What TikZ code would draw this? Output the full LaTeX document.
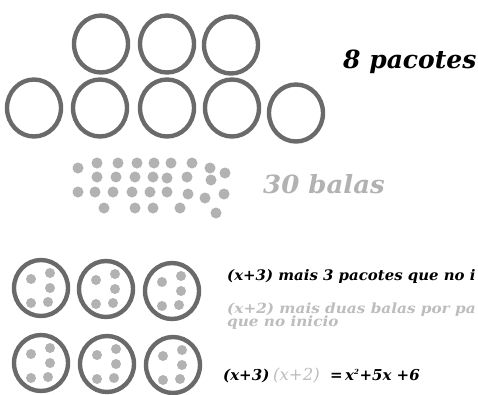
\documentclass[tikz,border=0pt]{standalone}
\usepackage{fontspec}
\setmainfont{DejaVu Serif}
\definecolor{ring}{HTML}{6A6A6A}
\definecolor{candy}{HTML}{B2B2B2}
\definecolor{softtext}{HTML}{BDBDBD}
\begin{document}
\begin{tikzpicture}[x=1pt,y=-1pt,
  pack/.style={draw=ring,line width=4.4pt},
  ball/.style={fill=candy},
  label/.style={anchor=base west,inner sep=0pt,font=\bfseries\itshape}]
\useasboundingbox (0,0) rectangle (478,394);
\clip (0,0) rectangle (478,394);
\fill[white] (0,0) rectangle (478,394);

% eight packets
\foreach \cx/\cy in {101/44,167/44,231/45,34/108,100/108,167/108,232/108,296/113}
  \draw[pack] (\cx,\cy) ellipse [x radius=27, y radius=28.5];
\node[label,font=\fontsize{25}{25}\selectfont\bfseries\itshape] (pk) at (343,68) {8 pacotes};

% thirty candies
\foreach \dx/\dy in {78/168,97/163,118/163,137/163,154/163,171/163,192/163,210/168,225/173,
                     97/177,116/177,135/177,153/177,167/178,187/177,211/180,
                     78/192,95/192,113/192,132/192,150/192,167/192,188/194,205/198,224/194,
                     104/208,135/208,153/208,180/208,216/213}
  \fill[ball] (\dx,\dy) circle (5.5);
\node[label,text=candy,font=\fontsize{25}{25}\selectfont\bfseries\itshape,xscale=1.04] (bl) at (263,193) {30 balas};

% eleven packets with five candies each
\foreach \cx/\cy in {41/288,106/289,172/291,41/363,107/364,173/365}{
  \draw[pack] (\cx,\cy) ellipse [x radius=27, y radius=28];
  \foreach \ox/\oy in {-10/-9,9/-15,9/0,-10/15,7/14}
    \fill[ball] (\cx+\ox,\cy+\oy) circle (5);
}

% explanations
\node[label,font=\fontsize{14.5}{14.5}\selectfont\bfseries\itshape,xscale=1.03] (l1) at (227,280) {(x+3) mais 3 pacotes que no i};
\node[label,text=softtext,font=\fontsize{14}{14}\selectfont\bfseries\itshape,xscale=1.09] (l2) at (227,313) {(x+2) mais duas balas por pa};
\node[label,text=softtext,font=\fontsize{14}{14}\selectfont\bfseries\itshape,xscale=1.09] (l3) at (227,326) {que no inicio};
\node[label,font=\fontsize{15}{15}\selectfont\bfseries\itshape] (e1) at (223,380) {(x+3)};
\node[label,text=softtext,font=\fontsize{16.5}{16.5}\selectfont\itshape] (e2) at (273,380) {(x+2)};
\node[label,font=\fontsize{15}{15}\selectfont\bfseries\itshape] (e3) at (330,380) {=};
\node[label,font=\fontsize{15}{15}\selectfont\bfseries\itshape] (e4) at (345,380) {x\textsuperscript{\scriptsize 2}+5x +6};
\end{tikzpicture}
\end{document}
